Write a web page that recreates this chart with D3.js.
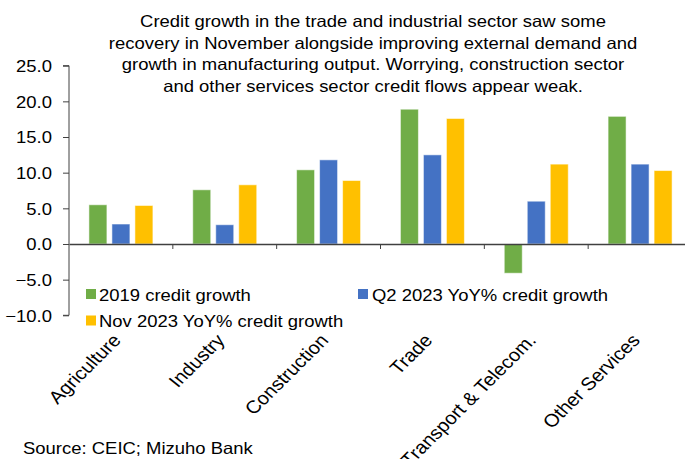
<!DOCTYPE html>
<html>
<head>
<meta charset="utf-8">
<script src="https://cdn.jsdelivr.net/npm/d3@7"></script>
<style>
  html, body { margin: 0; padding: 0; background: #fff; }
  svg { display: block; font-family: "Liberation Sans", Arial, sans-serif; }
</style>
</head>
<body>
<svg id="chart" width="685" height="459"></svg>
<script>
const categories = ["Agriculture", "Industry", "Construction", "Trade", "Transport & Telecom.", "Other Services"];
const seriesNames = ["2019 credit growth", "Q2 2023 YoY% credit growth", "Nov 2023 YoY% credit growth"];
const credit2019 = [5.5, 7.6, 10.4, 18.9, -4.1, 17.9];
const creditQ22023 = [2.8, 2.7, 11.8, 12.5, 6.0, 11.2];
const creditNov2023 = [5.4, 8.3, 8.9, 17.6, 11.2, 10.3];
const yTicks = [-10, -5, 0, 5, 10, 15, 20, 25];
const titleLines = [
  "Credit growth in the trade and industrial sector saw some",
  "recovery in November alongside improving external demand and",
  "growth in manufacturing output. Worrying, construction sector",
  "and other services sector credit flows appear weak."
];
const sourceText = "Source: CEIC; Mizuho Bank";
const colors = ["#70AD47", "#4472C4", "#FFC000"];

const seriesValues = [credit2019, creditQ22023, creditNov2023];
const FS = 16.5, SX = 1.12;

const svg = d3.select("#chart");
const plot = { left: 69, right: 692, top: 65.7, bottom: 315.3 };

const x = d3.scaleBand().domain(categories).range([plot.left, plot.right]).padding(0);
const inner = 64;
const x1 = d3.scaleBand().domain(seriesNames).range([0, inner]).paddingInner(5 / 23).paddingOuter(0);
const y = d3.scaleLinear().domain([-10, 25]).range([plot.bottom, plot.top]);

function stretchText(sel) {
  sel.each(function () {
    const t = d3.select(this);
    const tx = +t.attr("x") || 0, ty = +t.attr("y") || 0;
    t.attr("x", 0).attr("y", 0).attr("transform", `translate(${tx},${ty}) scale(${SX},1)`);
  });
}

// Title
svg.append("g").selectAll("text").data(titleLines).join("text")
  .attr("x", 373).attr("y", (d, i) => 26.7 + i * 21.8)
  .attr("text-anchor", "middle").attr("font-size", FS).attr("fill", "#000")
  .text(d => d).call(stretchText);

// Bars
const data = [];
categories.forEach((c, ci) => seriesNames.forEach((s, si) => data.push({ c, s, si, v: seriesValues[si][ci] })));
const groupOffset = (x.bandwidth() - inner) / 2;
svg.append("g").selectAll("rect").data(data).join("rect")
  .attr("x", d => x(d.c) + groupOffset + x1(d.s))
  .attr("width", x1.bandwidth())
  .attr("y", d => y(Math.max(0, d.v)))
  .attr("height", d => Math.abs(y(d.v) - y(0)))
  .attr("fill", d => colors[d.si])
  .attr("stroke", "rgba(255,255,255,0.55)").attr("stroke-width", 1);

// Y axis
const yAxis = svg.append("g").attr("transform", `translate(${plot.left},0)`)
  .call(d3.axisLeft(y).tickValues(yTicks).tickFormat(d3.format(".1f")).tickSize(6).tickPadding(11));
yAxis.select(".domain").attr("stroke", "#404040").attr("d", `M-6,${plot.top}H0V${plot.bottom}H-6`);
yAxis.selectAll(".tick line").attr("stroke", "#404040");
yAxis.selectAll(".tick text").attr("font-size", FS).attr("font-family", null).attr("fill", "#000")
  .attr("dy", "0.36em").call(stretchText);

// Zero line with category boundary ticks
const xAxis = svg.append("g").attr("transform", `translate(0,${y(0)})`)
  .call(d3.axisBottom(x).tickSize(0).tickFormat(""));
xAxis.select(".domain").attr("stroke", "#404040").attr("stroke-width", 1.6);
xAxis.selectAll(".tick").remove();
const boundaries = categories.map(c => x(c)).slice(1);
xAxis.selectAll("line.bt").data(boundaries).join("line").attr("class", "bt")
  .attr("x1", d => d).attr("x2", d => d).attr("y1", 0).attr("y2", 5)
  .attr("stroke", "#404040").attr("stroke-width", 1);

// Category labels
svg.append("g").selectAll("text").data(categories).join("text")
  .attr("transform", d => `translate(${x(d) + x.bandwidth() / 2 + 1},341) scale(${SX},1) rotate(-48)`)
  .attr("text-anchor", "end").attr("font-size", 18).attr("fill", "#000")
  .text(d => d);

// Legend
const legendPos = [{ mx: 86, my: 289, tx: 99, ty: 301 }, { mx: 358, my: 289, tx: 372, ty: 301 }, { mx: 86, my: 315.5, tx: 99, ty: 327.3 }];
const lg = svg.append("g").selectAll("g").data(seriesNames).join("g");
lg.append("rect").attr("x", (d, i) => legendPos[i].mx).attr("y", (d, i) => legendPos[i].my)
  .attr("width", 10).attr("height", 10).attr("fill", (d, i) => colors[i]);
lg.append("text").attr("x", (d, i) => legendPos[i].tx).attr("y", (d, i) => legendPos[i].ty)
  .attr("font-size", FS).attr("fill", "#000").text(d => d).call(stretchText);

// Source
svg.append("text").attr("x", 23).attr("y", 454).attr("font-size", FS).attr("fill", "#000")
  .text(sourceText).call(stretchText);
</script>
</body>
</html>
